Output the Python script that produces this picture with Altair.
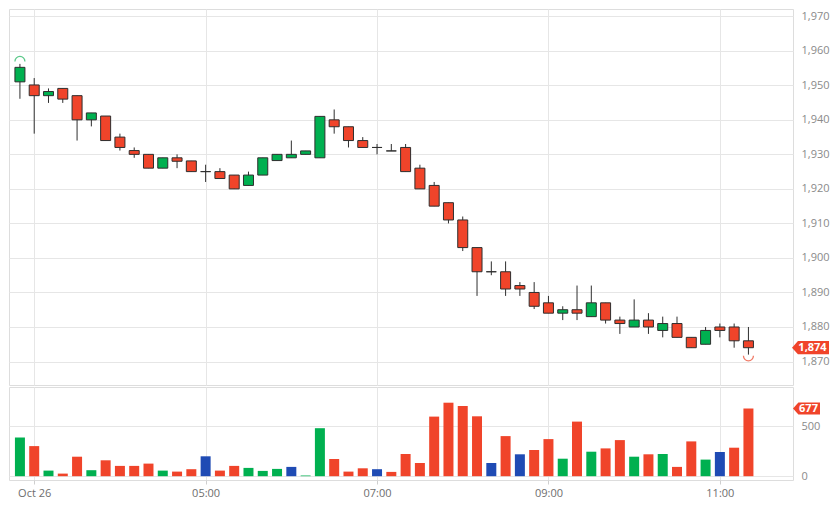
import altair as alt
import pandas as pd
import numpy as np

# ---- data (10-minute candles, Oct 26) ----
times = ["02:50", "03:00", "03:10", "03:20", "03:30", "03:40", "03:50", "04:00", "04:10", "04:20",
         "04:30", "04:40", "04:50", "05:00", "05:10", "05:20", "05:30", "05:40", "05:50", "06:00",
         "06:10", "06:20", "06:30", "06:40", "06:50", "07:00", "07:10", "07:20", "07:30", "07:40",
         "07:50", "08:00", "08:10", "08:20", "08:30", "08:40", "08:50", "09:00", "09:10", "09:20",
         "09:30", "09:40", "09:50", "10:00", "10:10", "10:20", "10:30", "10:40", "10:50", "11:00",
         "11:10", "11:20"]
opens = [1951.0, 1950.1, 1947.0, 1949.1, 1947.0, 1940.0, 1941.1, 1935.0, 1931.1, 1930.0,
         1926.0, 1929.0, 1928.1, 1925.0, 1925.0, 1924.0, 1921.0, 1924.0, 1928.2, 1929.0,
         1930.0, 1929.0, 1940.0, 1938.0, 1934.0, 1932.0, 1931.0, 1932.0, 1926.0, 1921.0,
         1916.0, 1911.0, 1903.0, 1896.0, 1896.0, 1892.0, 1890.0, 1887.0, 1884.0, 1885.0,
         1883.0, 1887.0, 1882.0, 1880.0, 1882.0, 1879.0, 1881.0, 1877.0, 1875.0, 1880.0,
         1880.0, 1876.0]
highs = [1956.2, 1952.1, 1949.1, 1949.1, 1947.0, 1942.0, 1941.1, 1936.0, 1932.0, 1930.0,
         1929.0, 1930.0, 1928.1, 1927.0, 1926.0, 1924.0, 1925.0, 1929.0, 1930.0, 1934.0,
         1931.0, 1941.0, 1943.0, 1938.0, 1935.0, 1933.0, 1933.0, 1933.0, 1927.0, 1922.0,
         1916.0, 1912.0, 1903.0, 1899.0, 1899.0, 1893.0, 1893.0, 1889.0, 1886.0, 1892.0,
         1892.0, 1887.0, 1883.0, 1888.0, 1884.0, 1883.0, 1883.0, 1877.0, 1880.0, 1881.0,
         1881.0, 1880.0]
lows = [1946.1, 1936.0, 1944.9, 1944.9, 1934.0, 1938.1, 1934.0, 1931.1, 1929.0, 1926.0,
        1926.0, 1926.0, 1925.0, 1922.0, 1923.0, 1920.0, 1921.0, 1924.0, 1928.2, 1929.0,
        1930.0, 1929.0, 1936.0, 1932.0, 1932.0, 1930.0, 1931.0, 1925.0, 1920.0, 1915.0,
        1910.0, 1902.0, 1889.0, 1895.0, 1889.0, 1889.0, 1885.2, 1884.0, 1882.0, 1882.0,
        1883.0, 1881.0, 1878.0, 1880.0, 1878.0, 1877.0, 1877.0, 1874.0, 1875.0, 1877.0,
        1874.0, 1872.0]
closes = [1955.2, 1947.0, 1948.2, 1946.0, 1940.0, 1942.0, 1934.0, 1932.0, 1930.0, 1926.0,
          1929.0, 1928.0, 1925.0, 1925.0, 1923.0, 1920.0, 1924.0, 1929.0, 1930.0, 1930.0,
          1931.0, 1941.0, 1938.0, 1934.0, 1932.0, 1932.0, 1931.0, 1925.0, 1920.0, 1915.0,
          1911.0, 1903.0, 1896.0, 1896.0, 1891.0, 1891.0, 1886.0, 1884.0, 1885.0, 1884.0,
          1887.0, 1882.0, 1881.0, 1882.0, 1880.0, 1881.0, 1877.0, 1874.0, 1879.0, 1879.0,
          1876.0, 1874.0]
volumes = [387, 301, 56, 26, 195, 60, 159, 103, 103, 126,
           56, 46, 70, 199, 56, 103, 83, 53, 73, 93,
           7, 480, 172, 46, 79, 70, 43, 222, 132, 596,
           735, 702, 599, 132, 401, 219, 262, 371, 175, 546,
           245, 278, 361, 195, 219, 222, 93, 348, 166, 242,
           285, 677]

x_tick_minutes = [180, 300, 420, 540, 660]
x_tick_labels = ["Oct 26", "05:00", "07:00", "09:00", "11:00"]
price_ticks = [1870, 1880, 1890, 1900, 1910, 1920, 1930, 1940, 1950, 1960, 1970]
volume_ticks = [0, 500]

# ---- styles ----
GREEN = "#00b050"
RED = "#f0442a"
BLUE = "#1f4bb4"
EDGE = "#2e2e2e"
GRID = "#e6e6e6"
FONT = "Open Sans"

df = pd.DataFrame({"t": times, "o": opens, "h": highs, "l": lows, "c": closes, "v": volumes})
df["m"] = [int(t[:2]) * 60 + int(t[3:]) for t in times]
df["dir"] = np.where(df.c > df.o, "up", np.where(df.c < df.o, "down", "flat"))
prev = df.c.shift(1)
df["vdir"] = np.where(prev.isna() | (df.c > prev), "up", np.where(df.c < prev, "down", "flat"))

hi_i = int(df.h.idxmax())
lo_i = int(df.l.idxmin())
hi_df = pd.DataFrame({"m": [df.m[hi_i]], "p": [df.h[hi_i]]})
lo_df = pd.DataFrame({"m": [df.m[lo_i]], "p": [df.l[lo_i]]})
last_df = pd.DataFrame({"c": [df.c.iloc[-1]], "lab": [f"{df.c.iloc[-1]:,.0f}"],
                        "v": [df.v.iloc[-1]], "vlab": [f"{df.v.iloc[-1]:d}"]})

W = 784
x_scale = alt.Scale(domain=[165.85, 707.7], nice=False, zero=False)

label_expr = ""
for mv, lab in zip(x_tick_minutes, x_tick_labels):
    label_expr += f"datum.value == {mv} ? '{lab}' : "
label_expr += "''"

x_axis_price = alt.Axis(values=x_tick_minutes, grid=True, gridColor=GRID, labels=False,
                        ticks=False, domain=False, title=None)
x_axis_vol = alt.Axis(values=x_tick_minutes, grid=True, gridColor=GRID, labelExpr=label_expr,
                      ticks=True, tickSize=4, tickColor="#cfcfcf", domain=False, title=None,
                      labelColor="#6e6e6e", labelFontSize=11, labelPadding=3, labelFont=FONT)

y_scale = alt.Scale(domain=[1863.2, 1972.1], nice=False, zero=False)
y_axis = alt.Axis(orient="right", values=price_ticks, format=",d", grid=True, gridColor=GRID,
                  ticks=False, domain=False, title=None, labelPadding=8, labelColor="#8a8a8a",
                  labelFontSize=11, labelFont=FONT)

X = alt.X("m:Q", scale=x_scale, axis=x_axis_price)

wicks = alt.Chart(df).mark_rule(color=EDGE, strokeWidth=1).encode(
    x=X, y=alt.Y("l:Q", scale=y_scale, axis=y_axis), y2="h:Q")
bodies = alt.Chart(df).mark_bar(size=10, stroke=EDGE, strokeWidth=1, opacity=1).encode(
    x=X, y=alt.Y("o:Q", scale=y_scale, axis=y_axis), y2="c:Q",
    fill=alt.Fill("dir:N", scale=alt.Scale(domain=["up", "down", "flat"], range=[GREEN, RED, EDGE]),
                  legend=None))

UP_ARC = "M -1 -0.5 A 1 1 0 0 1 1 -0.5"
DOWN_ARC = "M -1 0.25 A 1 1 0 0 0 1 0.25"
hi_mark = alt.Chart(hi_df).mark_point(shape=UP_ARC, size=100, filled=False, color="#5cc98a",
                                      strokeWidth=1.3, opacity=1).encode(
    x=X, y=alt.Y("p:Q", scale=y_scale, axis=y_axis))
lo_mark = alt.Chart(lo_df).mark_point(shape=DOWN_ARC, size=100, filled=False, color="#f07a66",
                                      strokeWidth=1.3, opacity=1).encode(
    x=X, y=alt.Y("p:Q", scale=y_scale, axis=y_axis))

TAG1 = "M -1 0 L -0.68 -0.36 L 1 -0.36 L 1 0.36 L -0.68 0.36 Z"
tag_bg = alt.Chart(last_df).mark_point(shape=TAG1, size=1369, filled=True, color=RED, opacity=1,
                                       strokeWidth=0).encode(
    x=alt.value(W + 17.5), y=alt.Y("c:Q", scale=y_scale, axis=y_axis))
tag_txt = alt.Chart(last_df).mark_text(color="white", fontWeight="bold", fontSize=11, font=FONT,
                                       dx=2).encode(
    x=alt.value(W + 17.5), y=alt.Y("c:Q", scale=y_scale, axis=y_axis), text="lab:N")

price = alt.layer(wicks, bodies, hi_mark, lo_mark, tag_bg, tag_txt).properties(width=W, height=376)

XV = alt.X("m:Q", scale=x_scale, axis=x_axis_vol)
v_scale = alt.Scale(domain=[-38, 892], nice=False, zero=False)
v_axis = alt.Axis(orient="right", values=volume_ticks, grid=True, gridColor=GRID, ticks=False,
                  domain=False, title=None, labelPadding=8, labelColor="#8a8a8a",
                  labelFontSize=11, labelFont=FONT)
vbars = alt.Chart(df).mark_bar(size=10, opacity=1).encode(
    x=XV, y=alt.Y("v:Q", scale=v_scale, axis=v_axis),
    color=alt.Color("vdir:N", scale=alt.Scale(domain=["up", "down", "flat"], range=[GREEN, RED, BLUE]),
                    legend=None))
TAG2 = "M -1 0 L -0.6 -0.45 L 1 -0.45 L 1 0.45 L -0.6 0.45 Z"
vtag_bg = alt.Chart(last_df).mark_point(shape=TAG2, size=729, filled=True, color=RED, opacity=1,
                                        strokeWidth=0).encode(
    x=alt.value(W + 13.5), y=alt.Y("v:Q", scale=v_scale, axis=v_axis))
vtag_txt = alt.Chart(last_df).mark_text(color="white", fontWeight="bold", fontSize=11, font=FONT,
                                        dx=2).encode(
    x=alt.value(W + 13.5), y=alt.Y("v:Q", scale=v_scale, axis=v_axis), text="vlab:N")
volume = alt.layer(vbars, vtag_bg, vtag_txt).properties(width=W, height=93)

chart = alt.vconcat(price, volume, spacing=0).properties(
    padding={"left": 0, "top": 0, "right": 0, "bottom": 0}
).resolve_scale(x="shared").configure_view(stroke="#d6d6d6", strokeWidth=1).configure(
    background="white", font=FONT)

chart.save("out.html", embed_options={"renderer": "svg", "actions": False})
